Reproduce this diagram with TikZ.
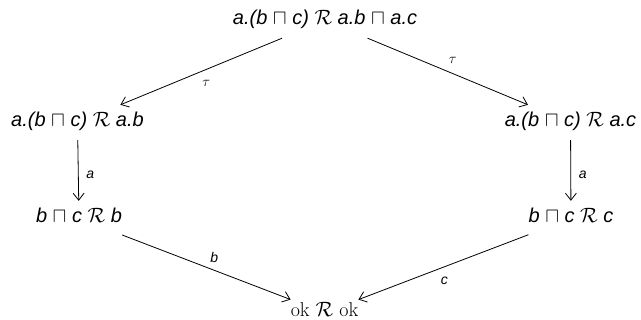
\documentclass[tikz,border=0pt]{standalone}
\usepackage{fontspec}
\newfontfamily\ar{Liberation Sans}
\usetikzlibrary{arrows.meta}
\begin{document}
\begin{tikzpicture}[x=1pt,y=1pt,
  st/.style={font=\fontsize{20}{24}\selectfont\ar\itshape, inner xsep=0pt, inner ysep=8pt, text height=14pt, text depth=5pt, anchor=base},
  okst/.style={st, font=\fontsize{20}{24}\selectfont\rmfamily\upshape},
  lbl/.style={font=\fontsize{14}{16}\selectfont\ar\itshape, inner sep=0pt},
  arr/.style={-{Straight Barb[length=7pt,width=11pt]}, line width=0.8pt}
]
\useasboundingbox (0,0) rectangle (641,320);
\node[st] (T) at (325,295) {a.(b $\sqcap$ c) $\mathcal{R}$ a.b $\sqcap$ a.c};
\node[st] (L1) at (77.5,193) {a.(b $\sqcap$ c) $\mathcal{R}$ a.b};
\node[st] (R1) at (570.5,193) {a.(b $\sqcap$ c) $\mathcal{R}$ a.c};
\node[st] (L2) at (79,97) {b $\sqcap$ c $\mathcal{R}$ b};
\node[st] (R2) at (571,97) {b $\sqcap$ c $\mathcal{R}$ c};
\node[okst] (B) at (324.5,3) {ok $\mathcal{R}$ ok};
\draw[arr] (T) -- (L1) node[lbl, midway, xshift=5pt, yshift=-12pt] {$\tau$};
\draw[arr] (T) -- (R1) node[lbl, midway, xshift=5pt, yshift=11pt] {$\tau$};
\draw[arr] (L1) -- (L2) node[lbl, midway, xshift=12pt, yshift=-4pt] {a};
\draw[arr] (R1) -- (R2) node[lbl, midway, xshift=12pt, yshift=-4pt] {a};
\draw[arr] (L2) -- (B) node[lbl, midway, xshift=8pt, yshift=10pt] {b};
\draw[arr] (R2) -- (B) node[lbl, midway, xshift=1pt, yshift=-14pt] {c};
\end{tikzpicture}
\end{document}
